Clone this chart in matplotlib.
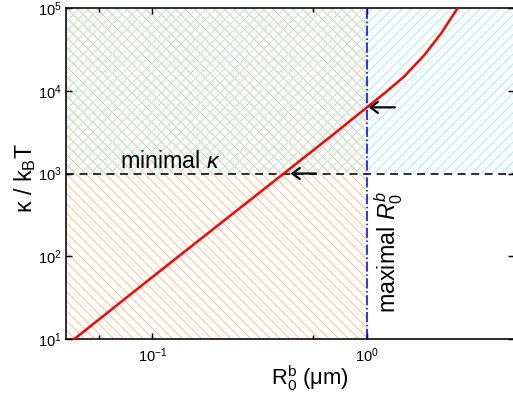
import matplotlib
matplotlib.use("Agg")
import matplotlib.pyplot as plt
from matplotlib.ticker import FixedLocator, NullFormatter

# bending rigidity vs bud radius
R0 = [0.0433, 0.1, 0.2, 0.41, 0.7, 1.0, 1.205, 1.49, 1.85, 2.22, 2.65]
kappa = [10, 56, 231, 1000, 2990, 6300, 9300, 14800, 26900, 49400, 100000]

kappa_min = 1000
R0_max = 1.0

plt.rcParams['font.family'] = ['Liberation Sans', 'DejaVu Sans']
plt.rcParams['mathtext.fontset'] = 'custom'
plt.rcParams['mathtext.rm'] = 'Liberation Sans'
plt.rcParams['mathtext.it'] = 'Liberation Sans:italic'
plt.rcParams['mathtext.bf'] = 'Liberation Sans:bold'
plt.rcParams['hatch.linewidth'] = 0.8

dpi = 88
fig = plt.figure(figsize=(513 / dpi, 397 / dpi), dpi=dpi)
ax = fig.add_axes([66 / 513, 1 - 339 / 397, 448 / 513, 331 / 397])

ax.set_xscale('log')
ax.set_yscale('log')
ax.set_xlim(0.0396, 4.85)
ax.set_ylim(10, 1e5)

orange = '#FFC08C'
cyan = '#A0F0F2'
ax.axvspan(0.01, R0_max, facecolor='none', edgecolor=orange, hatch='\\\\\\', lw=0, zorder=1)
ax.axhspan(kappa_min, 1e6, facecolor='none', edgecolor=cyan, hatch='///', lw=0, zorder=1)

ax.axhline(kappa_min, color='black', ls=(0, (5, 3.5)), lw=1.3, zorder=3)
ax.axvline(R0_max, color='blue', ls='-.', lw=1.3, zorder=3)
ax.plot(R0, kappa, color='red', lw=2.0, zorder=4)

arr = dict(arrowstyle='->, head_length=0.6, head_width=0.45', color='black', lw=1.8,
           shrinkA=0, shrinkB=0)
ax.annotate('', xy=(1.02, 6300), xytext=(1.35, 6300), arrowprops=arr, zorder=5)
ax.annotate('', xy=(0.441, 1000), xytext=(0.578, 1000), arrowprops=arr, zorder=5)

ax.text(0.0709, 1164, r'minimal $\kappa$', fontsize=19, ha='left', va='baseline')
ax.text(1.27, 20.6, r'maximal $R_0^b$', fontsize=19, rotation=90, ha='center', va='bottom')

ax.set_xlabel(r'R$_\mathregular{0}^\mathregular{b}$ ($\mathregular{\mu}$m)', fontsize=18)
ax.set_ylabel(r'κ / k$_\mathregular{B}$T', fontsize=19)
ax.xaxis.set_label_coords(0.545, -0.074)
ax.yaxis.set_label_coords(-0.062, 0.485)

ax.xaxis.set_minor_locator(FixedLocator([10 ** -1.25, 10 ** -0.25]))
ax.xaxis.set_minor_formatter(NullFormatter())
ax.yaxis.set_minor_locator(FixedLocator([]))
ax.tick_params(which='both', direction='in', top=True, right=True, labelsize=12, width=1.2)
ax.tick_params(axis='x', pad=6)
ax.tick_params(which='major', length=5)
ax.tick_params(which='minor', length=3.5)
for s in ax.spines.values():
    s.set_linewidth(1.3)

fig.savefig('out.png', dpi=dpi)
